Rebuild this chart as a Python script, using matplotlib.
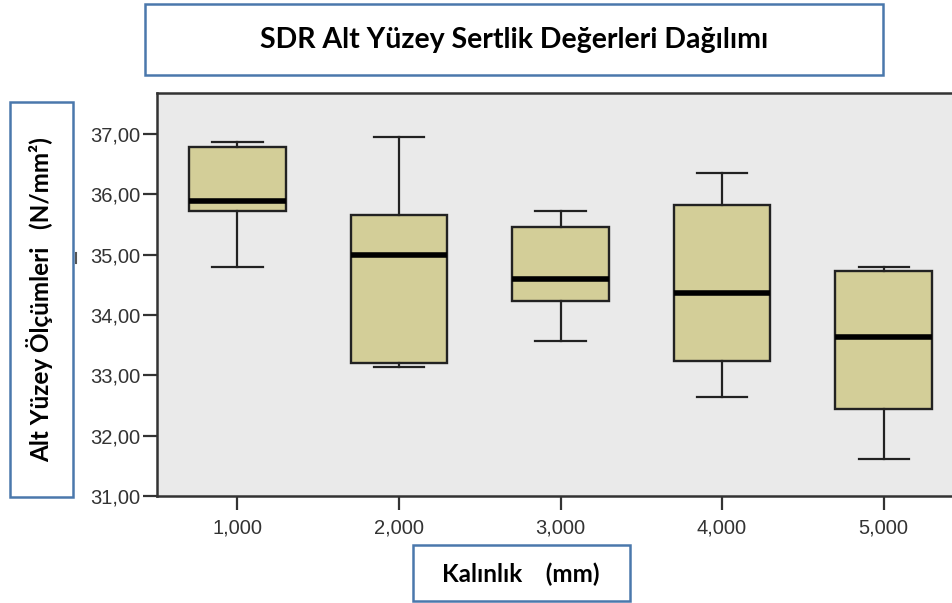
import matplotlib
matplotlib.use("Agg")
import matplotlib.pyplot as plt
from matplotlib.patches import Rectangle
from matplotlib.lines import Line2D
from matplotlib.ticker import FuncFormatter

# ---- data ----
categories = [1.0, 2.0, 3.0, 4.0, 5.0]
whisker_low = [34.80, 33.14, 33.57, 32.64, 31.62]
q1 = [35.73, 33.21, 34.23, 33.24, 32.45]
medians = [35.89, 34.99, 34.60, 34.37, 33.64]
q3 = [36.79, 35.66, 35.46, 35.83, 34.73]
whisker_high = [36.86, 36.95, 35.73, 36.36, 34.80]
y_ticks = [31, 32, 33, 34, 35, 36, 37]

title_text = "SDR Alt Yüzey Sertlik Değerleri Dağılımı"
ylabel_text = "Alt Yüzey Ölçümleri   (N/mm²)"
xlabel_text = "Kalınlık    (mm)"

W, H = 953, 603
fig = plt.figure(figsize=(W / 100, H / 100), dpi=100)
fig.patch.set_facecolor("white")

def fx(px):
    return px / W

def fy(py):
    return 1 - py / H

ax_left, ax_right, ax_top, ax_bot = 157, 953, 93, 496
ax = fig.add_axes([fx(ax_left), fy(ax_bot), fx(ax_right - ax_left), (ax_bot - ax_top) / H])
ax.set_facecolor("#EAEAEA")

stats = []
for i in range(len(categories)):
    stats.append(dict(med=medians[i], q1=q1[i], q3=q3[i],
                      whislo=whisker_low[i], whishi=whisker_high[i], fliers=[]))

ax.bxp(stats, positions=list(range(1, len(categories) + 1)), widths=0.6,
       patch_artist=True, showfliers=False,
       boxprops=dict(facecolor="#D3CE98", edgecolor="#222222", linewidth=1.7),
       medianprops=dict(color="black", linewidth=4.0, solid_capstyle="butt"),
       whiskerprops=dict(color="#222222", linewidth=1.6),
       capprops=dict(color="#222222", linewidth=1.6),
       capwidths=0.31)

ax.set_xlim(0.5016, 5.43)
ax.set_ylim(31, 37.68)
ax.set_yticks(y_ticks)
ax.yaxis.set_major_formatter(FuncFormatter(lambda v, p: f"{v:.2f}".replace(".", ",")))
ax.set_xticks(range(1, len(categories) + 1))
ax.set_xticklabels([f"{c:.3f}".replace(".", ",") for c in categories])

for s in ["right"]:
    ax.spines[s].set_visible(False)
for s in ["left", "bottom", "top"]:
    ax.spines[s].set_color("#333333")
    ax.spines[s].set_linewidth(1.8)

ax.tick_params(axis="both", direction="out", length=10, width=1.6, color="#333333",
               labelsize=14.5, labelcolor="#333333", pad=2)
ax.tick_params(axis="x", pad=6)
for lab in ax.get_xticklabels() + ax.get_yticklabels():
    lab.set_fontfamily("Liberation Sans")

# ---- annotation boxes ----
border = "#4A78AC"

def box(x0, y0, x1, y1):
    r = Rectangle((fx(x0), fy(y1)), fx(x1 - x0), (y1 - y0) / H, transform=fig.transFigure,
                  facecolor="white", edgecolor=border, linewidth=1.8, zorder=5)
    fig.add_artist(r)

box(145, 4, 883, 75)
fig.text(fx(514), fy(40), title_text, ha="center", va="center", fontsize=20.5,
         fontweight="bold", family=["Lato", "DejaVu Sans"], zorder=6)

box(10, 102, 73, 497)
fig.text(fx(40), fy(300), ylabel_text, ha="center", va="center", rotation=90,
         fontsize=17.5, fontweight="bold", family=["Lato", "DejaVu Sans"], zorder=6)

box(413, 545, 630, 601)
fig.text(fx(521), fy(574), xlabel_text, ha="center", va="center", fontsize=17.5,
         fontweight="bold", family=["Lato", "DejaVu Sans"], zorder=6)

# small leftover mark next to the y axis
fig.add_artist(Line2D([fx(76), fx(76)], [fy(253), fy(263)], color="#555555", linewidth=1.5))

fig.savefig("out.png", dpi=100)
